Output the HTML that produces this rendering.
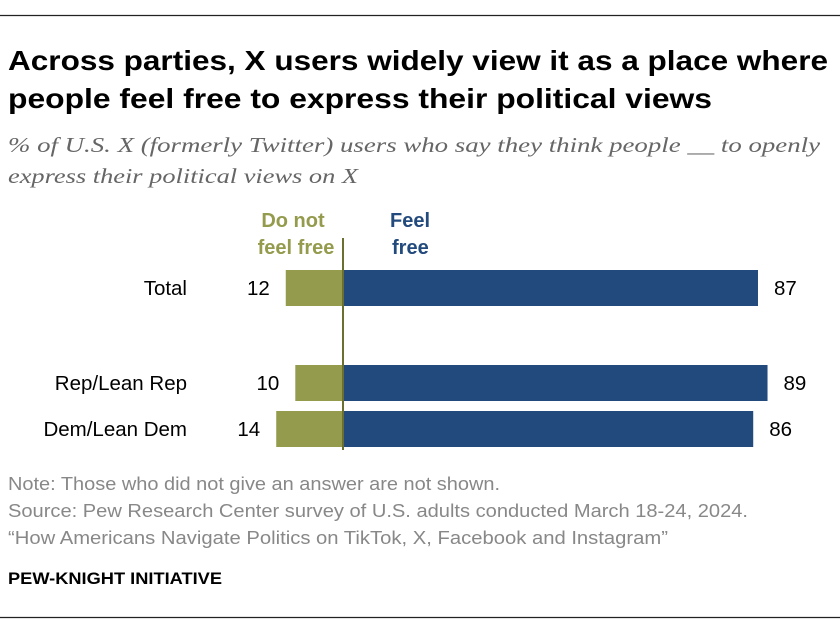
<!DOCTYPE html>
<html><head><meta charset="utf-8"><style>
body{margin:0;background:#fff;}
svg{display:block;font-family:"Liberation Sans",sans-serif;}
</style></head><body>
<svg width="840" height="634">
<line x1="0" y1="15.5" x2="840" y2="15.5" stroke="#222" stroke-width="1.2"/>
<text x="8" y="70" font-size="28" font-weight="bold" fill="#000" textLength="820" lengthAdjust="spacingAndGlyphs">Across parties, X users widely view it as a place where</text>
<text x="8" y="108" font-size="28" font-weight="bold" fill="#000" textLength="704" lengthAdjust="spacingAndGlyphs">people feel free to express their political views</text>
<text x="8" y="152" font-size="21" font-style="italic" fill="#666" font-family="Liberation Serif, serif" textLength="812" lengthAdjust="spacingAndGlyphs">% of U.S. X (formerly Twitter) users who say they think people __ to openly</text>
<text x="8" y="183" font-size="21" font-style="italic" fill="#666" font-family="Liberation Serif, serif" textLength="350" lengthAdjust="spacingAndGlyphs">express their political views on X</text>
<text font-size="20" font-weight="bold" fill="#949b4d" text-anchor="middle"><tspan x="293" y="227">Do not</tspan><tspan x="296" y="254">feel free</tspan></text>
<text font-size="20" font-weight="bold" fill="#234a7c"><tspan x="390" y="227">Feel</tspan><tspan x="392" y="254">free</tspan></text>
<g id="bars"></g>
<line x1="343" y1="238" x2="343" y2="450" stroke="#6b7030" stroke-width="2"/>
<text x="8" y="490" font-size="18" fill="#888" textLength="492" lengthAdjust="spacingAndGlyphs">Note: Those who did not give an answer are not shown.</text>
<text x="8" y="517" font-size="18" fill="#888" textLength="740" lengthAdjust="spacingAndGlyphs">Source: Pew Research Center survey of U.S. adults conducted March 18-24, 2024.</text>
<text x="8" y="544" font-size="18" fill="#888" textLength="660" lengthAdjust="spacingAndGlyphs">“How Americans Navigate Politics on TikTok, X, Facebook and Instagram”</text>
<text x="8" y="584" font-size="17" font-weight="bold" fill="#000" textLength="214" lengthAdjust="spacingAndGlyphs">PEW-KNIGHT INITIATIVE</text>
<line x1="0" y1="617.5" x2="840" y2="617.5" stroke="#222" stroke-width="1.2"/>
</svg>
<script>
const categories=["Total","Rep/Lean Rep","Dem/Lean Dem"];
const notFree=[12,10,14];
const feelFree=[87,89,86];
const rowTop=[270,365,411];
const cx=343, k=4.77, bh=36;
const sx=v=>v*k;
const g=document.getElementById('bars');
const NS='http://www.w3.org/2000/svg';
function mk(t,a){const e=document.createElementNS(NS,t);for(const n in a)e.setAttribute(n,a[n]);g.appendChild(e);return e;}
categories.forEach((c,i)=>{
  const y=rowTop[i];
  const b1=mk('rect',{x:cx-sx(notFree[i]),y:y,width:sx(notFree[i]),height:bh,fill:'#949b4d'});
  
  
  const b2=mk('rect',{x:cx,y:y,width:sx(feelFree[i]),height:bh,fill:'#234a7c'});
  
  
  const l=mk('text',{x:187,y:y+25,'font-size':20.5,'text-anchor':'end',fill:'#000'});l.textContent=c;
  
  
  const v1=mk('text',{x:cx-sx(notFree[i])-16,y:y+25,'font-size':20.5,'text-anchor':'end',fill:'#000'});v1.textContent=notFree[i];
  
  
  const v2=mk('text',{x:cx+sx(feelFree[i])+16,y:y+25,'font-size':20.5,'text-anchor':'start',fill:'#000'});v2.textContent=feelFree[i];
  
  
});
</script>
</body></html>
